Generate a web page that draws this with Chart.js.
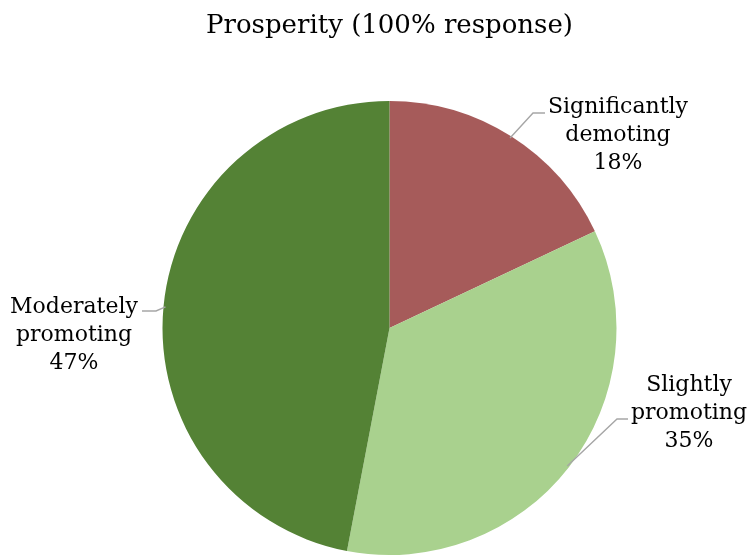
<!DOCTYPE html>
<html>
<head>
<meta charset="utf-8">
<script src="https://cdn.jsdelivr.net/npm/chart.js@4"></script>
<style>
  html, body { margin: 0; padding: 0; background: #fff; }
  #wrap { width: 748px; height: 557px; }
</style>
</head>
<body>
<div id="wrap"><canvas id="pie" width="748" height="557"></canvas></div>
<script>
const TITLE = 'Prosperity (100% response)';
const categories = ['Significantly demoting', 'Slightly promoting', 'Moderately promoting'];
const shares = [18, 35, 47];
const colors = ['#A65B5A', '#A9D18E', '#548235'];

// where each label sits and how its leader line bends
const labelPlaces = [
  { cx: 618, base: 113, elbow: [533, 113], end: [545, 113] },
  { cx: 689, base: 391, elbow: [617, 419], end: [628, 419] },
  { cx: 74,  base: 313, elbow: [156, 311], end: [142, 311] }
];

const FONT = '"DejaVu Serif", "Liberation Serif", serif';

const labelPlugin = {
  id: 'pieLabels',
  afterDatasetsDraw(chart) {
    const ctx = chart.ctx;
    const arcs = chart.getDatasetMeta(0).data;
    ctx.save();

    // title
    ctx.fillStyle = '#000';
    ctx.font = '26px ' + FONT;
    ctx.textAlign = 'center';
    ctx.textBaseline = 'alphabetic';
    ctx.fillText(TITLE, 389.5, 33);

    arcs.forEach((arc, i) => {
      const p = arc.getProps(['x', 'y', 'startAngle', 'endAngle', 'outerRadius'], true);
      const mid = (p.startAngle + p.endAngle) / 2;
      const r = p.outerRadius - 2;
      const ax = p.x + Math.cos(mid) * r;
      const ay = p.y + Math.sin(mid) * r;
      const place = labelPlaces[i];

      ctx.strokeStyle = '#a6a6a6';
      ctx.lineWidth = 1.4;
      ctx.beginPath();
      ctx.moveTo(ax, ay);
      ctx.lineTo(place.elbow[0], place.elbow[1]);
      ctx.lineTo(place.end[0], place.end[1]);
      ctx.stroke();

      const lines = categories[i].split(' ').concat([shares[i] + '%']);
      ctx.fillStyle = '#000';
      ctx.font = '22px ' + FONT;
      ctx.textAlign = 'center';
      lines.forEach((t, k) => ctx.fillText(t, place.cx, place.base + k * 28));
    });
    ctx.restore();
  }
};

new Chart(document.getElementById('pie'), {
  type: 'pie',
  data: {
    labels: categories,
    datasets: [{
      data: shares,
      backgroundColor: colors,
      borderWidth: 0
    }]
  },
  options: {
    responsive: false,
    animation: false,
    layout: { padding: { top: 101, bottom: 2, left: 162.5, right: 131.5 } },
    plugins: {
      legend: { display: false },
      title: { display: false },
      tooltip: { enabled: false }
    }
  },
  plugins: [labelPlugin]
});
</script>
</body>
</html>
